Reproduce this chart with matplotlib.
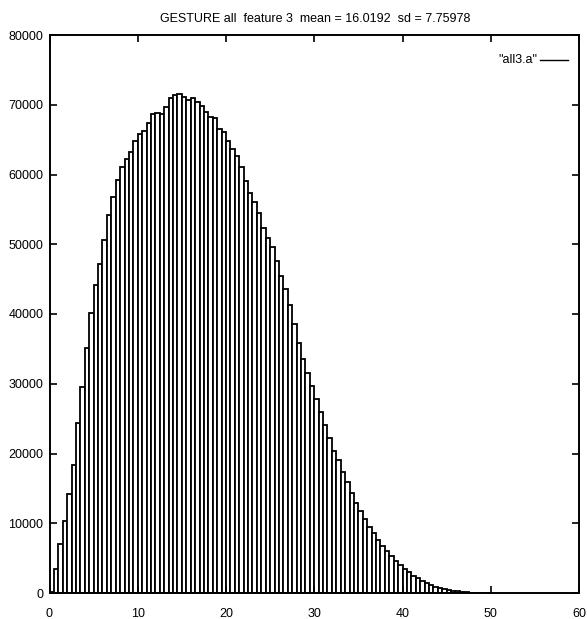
import numpy as np
import matplotlib
matplotlib.use("Agg")
import matplotlib.pyplot as plt

# Istogramma della feature 3 (bin di larghezza 0.5)
larghezza_bin = 0.5
conteggi = [
    190, 3440, 7000, 10370, 14200, 18350, 24370, 29580, 35100, 40140,
    44100, 47170, 50570, 54150, 56730, 59280, 61070, 62220, 63270, 64850,
    65800, 66240, 67380, 68670, 68860, 68720, 69680, 71030, 71350, 71500,
    71150, 70680, 70920, 70440, 69820, 69000, 68200, 68060, 66480, 66090,
    64850, 63710, 62650, 61120, 59070, 57390, 56100, 54440, 52380, 50940,
    49650, 47600, 45490, 43630, 41300, 38500, 35800, 33600, 31500, 29680,
    27770, 25900, 24090, 22180, 20360, 19020, 17390, 15960, 14380, 12950,
    11760, 10560, 9510, 8560, 7600, 6780, 6060, 5300, 4630, 4010,
    3400, 3010, 2440, 2100, 1720, 1390, 1100, 900, 720, 570,
    430, 330, 240, 160, 110, 70, 45, 30, 15, 8,
]
bordi_sx = np.arange(len(conteggi)) * larghezza_bin

titolo = "GESTURE all  feature 3  mean = 16.0192  sd = 7.75978"
etichetta = '"all3.a"'
xticks = [0, 10, 20, 30, 40, 50, 60]
yticks = [0, 10000, 20000, 30000, 40000, 50000, 60000, 70000, 80000]

plt.rcParams['font.family'] = ['Liberation Sans', 'DejaVu Sans']

fig = plt.figure(figsize=(5.87, 6.19), dpi=100)
ax = fig.add_axes([49.5 / 587, 26 / 619, 529.5 / 587, 558 / 619])

ax.bar(bordi_sx, conteggi, width=larghezza_bin, align='edge',
       facecolor='white', edgecolor='black', linewidth=1.3)

ax.set_xlim(0, 60)
ax.set_ylim(0, 80000)
ax.set_xticks(xticks)
ax.set_yticks(yticks)
ax.tick_params(direction='in', length=5, width=1.2, top=True, right=True,
               labelsize=9)
ax.tick_params(axis='x', pad=10.5)
ax.tick_params(axis='y', pad=4.5)
for s in ax.spines.values():
    s.set_linewidth(1.4)

fig.text(315 / 587, 1 - 19 / 619, titolo, ha='center', va='center', fontsize=9)

# Legenda in stile gnuplot
ax.text(0.921, 0.955, etichetta, transform=ax.transAxes, ha='right', va='center', fontsize=9)
ax.plot([0.927, 0.979], [0.955, 0.955], transform=ax.transAxes, color='black', linewidth=1.0)

fig.savefig("out.png", dpi=100)
